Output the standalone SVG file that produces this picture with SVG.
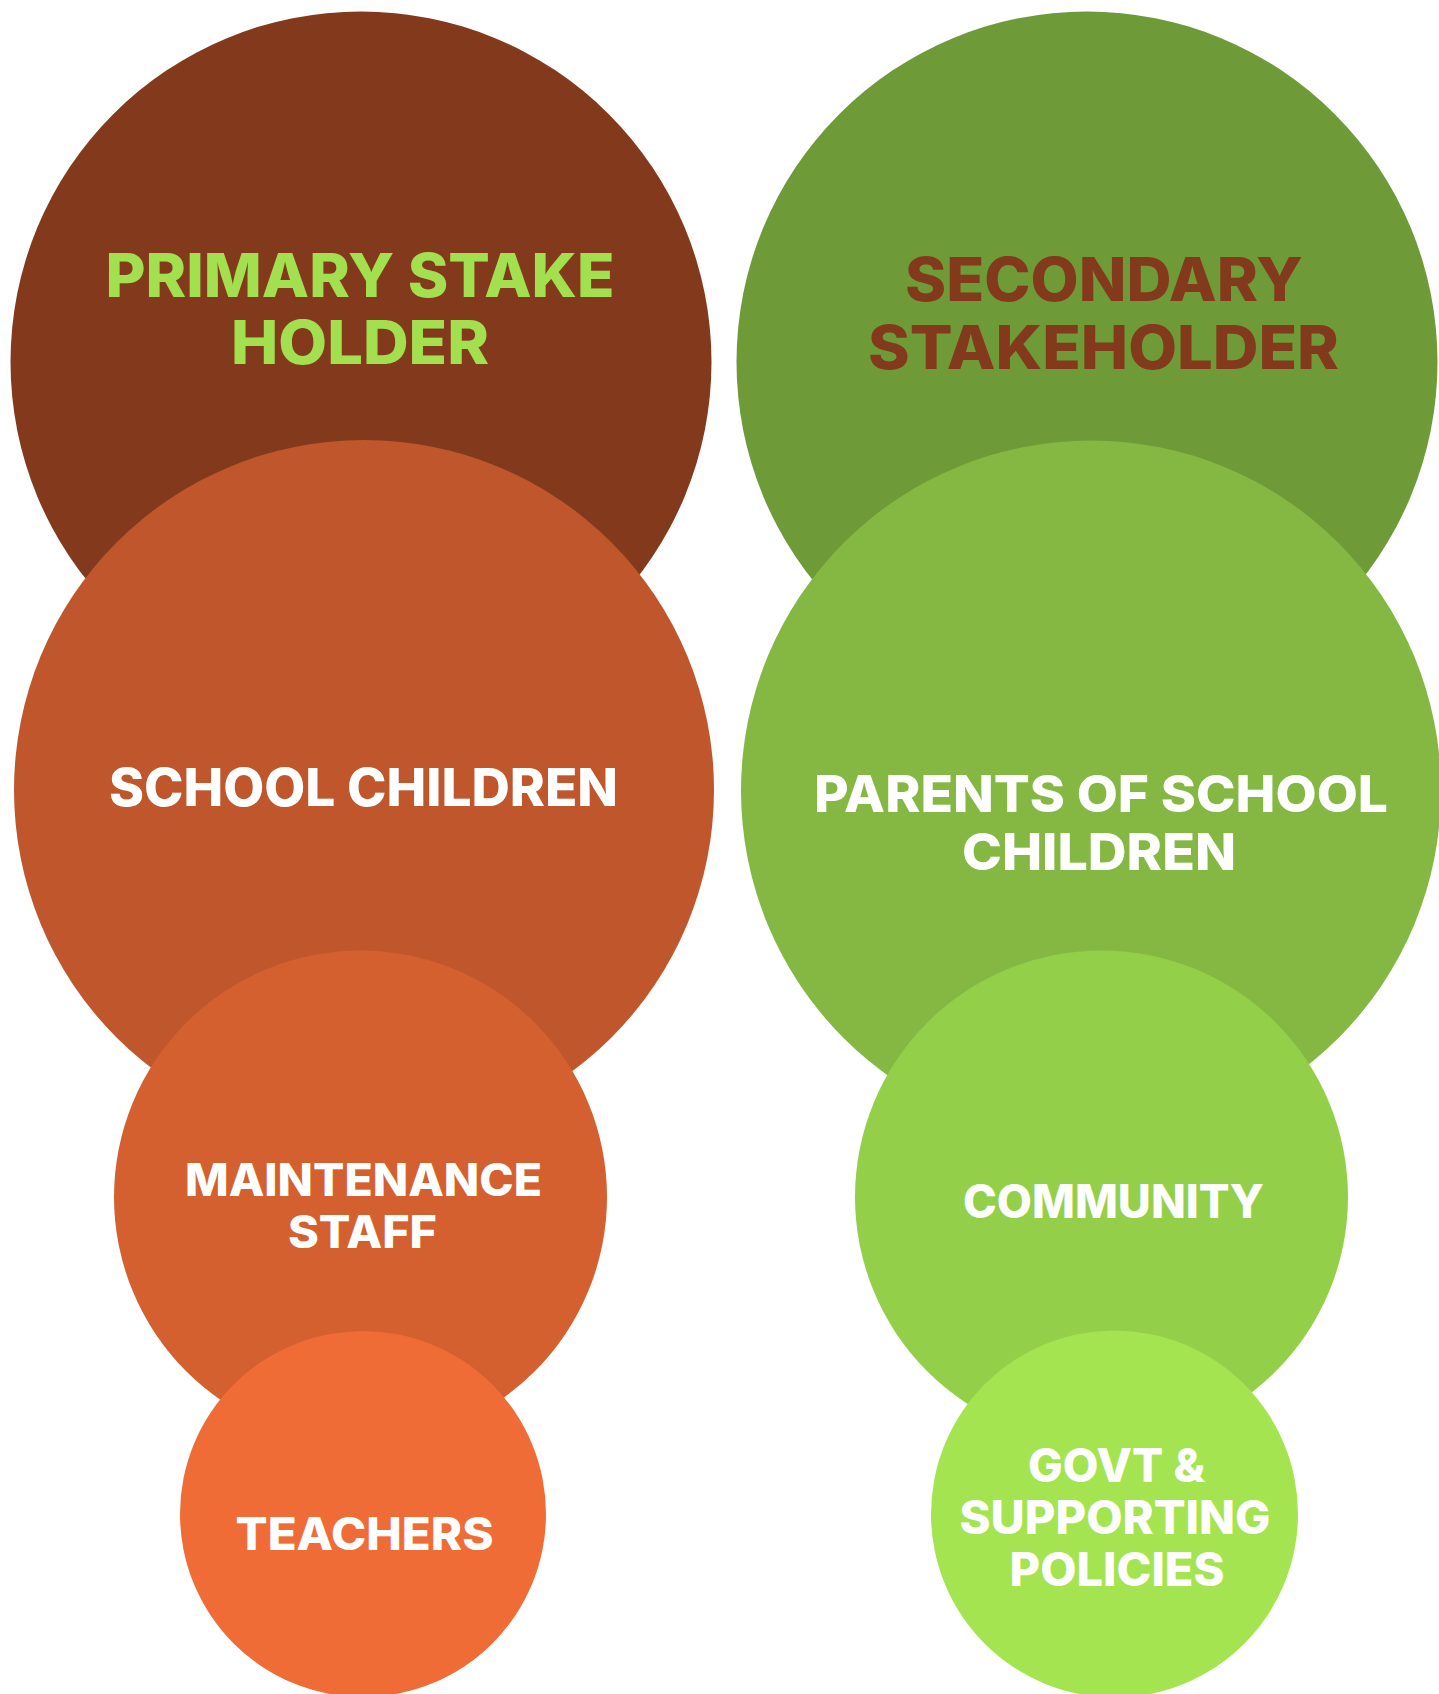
<svg xmlns="http://www.w3.org/2000/svg" width="1439" height="1694" viewBox="0 0 1439 1694">
  <style>
    text { font-family: Inter, "Open Sans", "Liberation Sans", sans-serif; font-weight: 800; text-anchor: middle; }
    .w { fill: #ffffff; }
  </style>
  <rect width="1439" height="1694" fill="#ffffff"/>

  <!-- Primary stakeholder column -->
  <g id="primary">
    <circle cx="361" cy="362" r="350.5" fill="#833A1C"/>
    <text x="360" y="297" font-size="60" fill="#A2E04F" textLength="509" lengthAdjust="spacingAndGlyphs">PRIMARY STAKE</text>
    <text x="360" y="364" font-size="60" fill="#A2E04F" textLength="258" lengthAdjust="spacingAndGlyphs">HOLDER</text>
  </g>
  <g id="school-children">
    <circle cx="364" cy="790" r="350" fill="#C0562B"/>
    <text class="w" x="363.5" y="806" font-size="52" textLength="509" lengthAdjust="spacingAndGlyphs">SCHOOL CHILDREN</text>
  </g>
  <g id="maintenance-staff">
    <circle cx="360.5" cy="1197" r="246.5" fill="#D45F2F"/>
    <text class="w" x="363.5" y="1195.5" font-size="45" textLength="357" lengthAdjust="spacingAndGlyphs">MAINTENANCE</text>
    <text class="w" x="362.5" y="1248" font-size="45" textLength="149" lengthAdjust="spacingAndGlyphs">STAFF</text>
  </g>
  <g id="teachers">
    <circle cx="363" cy="1514" r="183" fill="#EF6C37"/>
    <text class="w" x="364.5" y="1550" font-size="45" textLength="258" lengthAdjust="spacingAndGlyphs">TEACHERS</text>
  </g>

  <!-- Secondary stakeholder column -->
  <g id="secondary">
    <circle cx="1087" cy="362" r="350.5" fill="#6F9A38"/>
    <text x="1104" y="301" font-size="60" fill="#833A1C" textLength="398" lengthAdjust="spacingAndGlyphs">SECONDARY</text>
    <text x="1103.5" y="369" font-size="60" fill="#833A1C" textLength="471" lengthAdjust="spacingAndGlyphs">STAKEHOLDER</text>
  </g>
  <g id="parents">
    <circle cx="1091" cy="790.5" r="350" fill="#84B843"/>
    <text class="w" x="1101" y="812" font-size="51" textLength="574" lengthAdjust="spacingAndGlyphs">PARENTS OF SCHOOL</text>
    <text class="w" x="1099" y="870" font-size="51" textLength="274" lengthAdjust="spacingAndGlyphs">CHILDREN</text>
  </g>
  <g id="community">
    <circle cx="1101.5" cy="1197" r="246.5" fill="#94CF4A"/>
    <text class="w" x="1113.5" y="1218" font-size="46" textLength="301" lengthAdjust="spacingAndGlyphs">COMMUNITY</text>
  </g>
  <g id="govt">
    <circle cx="1114.5" cy="1514" r="183.5" fill="#A5E451"/>
    <text class="w" x="1116.5" y="1482" font-size="46" textLength="177" lengthAdjust="spacingAndGlyphs">GOVT &amp;</text>
    <text class="w" x="1115" y="1534" font-size="46" textLength="311" lengthAdjust="spacingAndGlyphs">SUPPORTING</text>
    <text class="w" x="1117" y="1586" font-size="46" textLength="215" lengthAdjust="spacingAndGlyphs">POLICIES</text>
  </g>

  <g id="connectors"/>
</svg>
